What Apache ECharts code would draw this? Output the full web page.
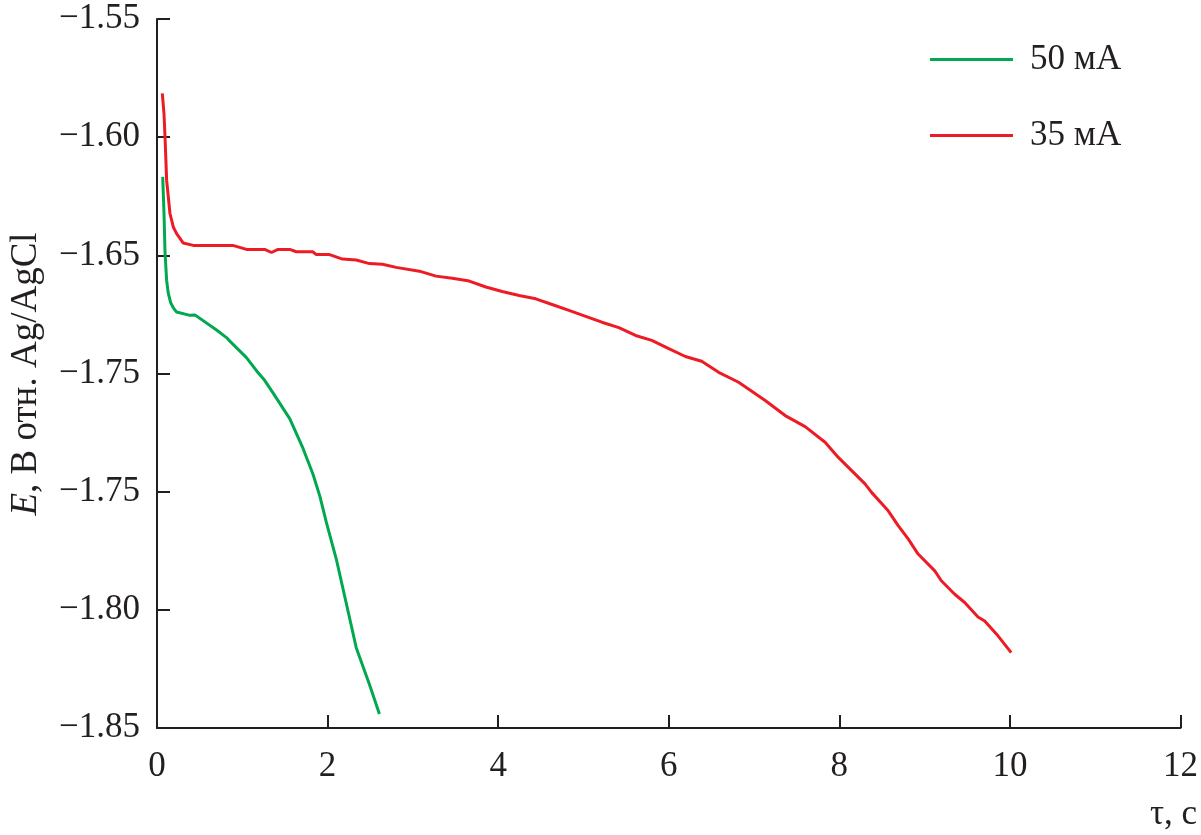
<!DOCTYPE html>
<html>
<head>
<meta charset="utf-8">
<script src="https://cdn.jsdelivr.net/npm/echarts@6/dist/echarts.min.js"></script>
<style>html,body{margin:0;padding:0;background:#fff;}#c{width:1201px;height:835px;}</style>
</head>
<body>
<div id="c"></div>
<script>
// Data
const greenT = [0.067, 0.082, 0.094, 0.113, 0.132, 0.160, 0.191, 0.230, 0.386, 0.444, 0.698, 0.815, 0.854, 1.049, 1.166, 1.264, 1.360, 1.556, 1.711, 1.828, 1.910, 1.985, 2.102, 2.219, 2.336, 2.491, 2.608];
const greenE = [-1.6168, -1.6322, -1.6487, -1.6606, -1.6660, -1.6700, -1.6722, -1.6740, -1.6754, -1.6752, -1.6816, -1.6848, -1.6863, -1.6933, -1.6988, -1.7030, -1.7082, -1.7191, -1.7316, -1.7425, -1.7520, -1.7629, -1.7785, -1.7972, -1.8160, -1.8316, -1.8441];

const redT = [0.062, 0.082, 0.094, 0.113, 0.152, 0.191, 0.230, 0.308, 0.425, 0.889, 1.049, 1.263, 1.342, 1.419, 1.556, 1.634, 1.825, 1.868, 2.023, 2.175, 2.336, 2.491, 2.643, 2.804, 3.076, 3.271, 3.462, 3.661, 3.856, 4.047, 4.246, 4.441, 4.632, 4.830, 5.026, 5.216, 5.415, 5.611, 5.801, 6.000, 6.195, 6.386, 6.585, 6.819, 7.131, 7.365, 7.599, 7.833, 7.988, 8.301, 8.378, 8.573, 8.690, 8.807, 8.924, 9.119, 9.196, 9.353, 9.470, 9.626, 9.704, 9.860, 10.015];
const redE = [-1.5815, -1.5900, -1.5999, -1.6182, -1.6323, -1.6380, -1.6408, -1.6448, -1.6458, -1.6458, -1.6475, -1.6475, -1.6488, -1.6475, -1.6475, -1.6485, -1.6485, -1.6497, -1.6497, -1.6516, -1.6520, -1.6535, -1.6538, -1.6551, -1.6567, -1.6588, -1.6597, -1.6609, -1.6634, -1.6653, -1.6670, -1.6684, -1.6708, -1.6733, -1.6758, -1.6783, -1.6806, -1.6839, -1.6860, -1.6895, -1.6928, -1.6948, -1.6995, -1.7037, -1.7114, -1.7178, -1.7225, -1.7291, -1.7355, -1.7467, -1.7503, -1.7581, -1.7644, -1.7700, -1.7764, -1.7835, -1.7877, -1.7934, -1.7969, -1.8030, -1.8047, -1.8110, -1.8181];

const yTickLabels = ['\u22121.85', '\u22121.80', '\u22121.75', '\u22121.75', '\u22121.65', '\u22121.60', '\u22121.55'];
const xTickLabels = ['0', '2', '4', '6', '8', '10', '12'];
const seriesNames = ['50 мА', '35 мА'];

const FONT = '"Liberation Serif", "DejaVu Serif", serif';
const INK = '#231f20';
const FS = 35;
const FT = 37;

const chart = echarts.init(document.getElementById('c'), null, {renderer: 'canvas'});
chart.setOption({
  animation: false,
  backgroundColor: '#fff',
  grid: {left: 157, right: 18, top: 19, bottom: 107, containLabel: false},
  xAxis: {
    type: 'value', min: 0, max: 12, interval: 2,
    axisLine: {show: true, onZero: false, lineStyle: {color: INK, width: 2}},
    axisTick: {show: true, inside: true, length: 13, lineStyle: {color: INK, width: 2}},
    splitLine: {show: false},
    axisLabel: {
      margin: 21, fontFamily: FONT, fontSize: FS, color: INK,
      formatter: function (v) { return xTickLabels[Math.round(v / 2)]; }
    }
  },
  yAxis: {
    type: 'value', min: -1.85, max: -1.55, interval: 0.05,
    axisLine: {show: true, onZero: false, lineStyle: {color: INK, width: 2}},
    axisTick: {show: true, inside: true, length: 13, lineStyle: {color: INK, width: 2}},
    splitLine: {show: false},
    axisLabel: {
      margin: 17, fontFamily: FONT, fontSize: FS, color: INK,
      formatter: function (v) { return yTickLabels[Math.round((v + 1.85) / 0.05)]; }
    }
  },
  legend: {
    orient: 'vertical', left: 930, top: 42, padding: 0,
    itemWidth: 83, itemHeight: 3, itemGap: 41, icon: 'rect',
    textStyle: {fontFamily: FONT, fontSize: FS, color: INK, padding: [0, 0, 0, 12]},
    data: seriesNames
  },
  graphic: [
    {
      type: 'text', x: 26, y: 374, rotation: Math.PI / 2,
      style: {
        text: '{i|E}, В отн. Ag/AgCl',
        fontFamily: FONT, fontSize: FT, fill: INK,
        align: 'center', verticalAlign: 'middle',
        rich: {i: {fontStyle: 'italic', fontFamily: FONT, fontSize: FT, fill: INK}}
      }
    },
    {
      type: 'text', x: 1197, y: 815,
      style: {
        text: 'τ, с', fontFamily: FONT, fontSize: FS, fill: INK,
        align: 'right', verticalAlign: 'middle'
      }
    }
  ],
  series: [
    {
      name: seriesNames[0], type: 'line', showSymbol: false, symbol: 'none',
      lineStyle: {color: '#00a94f', width: 3}, itemStyle: {color: '#00a94f'},
      data: greenT.map((t, i) => [t, greenE[i]])
    },
    {
      name: seriesNames[1], type: 'line', showSymbol: false, symbol: 'none',
      lineStyle: {color: '#ed1c24', width: 3}, itemStyle: {color: '#ed1c24'},
      data: redT.map((t, i) => [t, redE[i]])
    }
  ]
});
</script>
</body>
</html>
